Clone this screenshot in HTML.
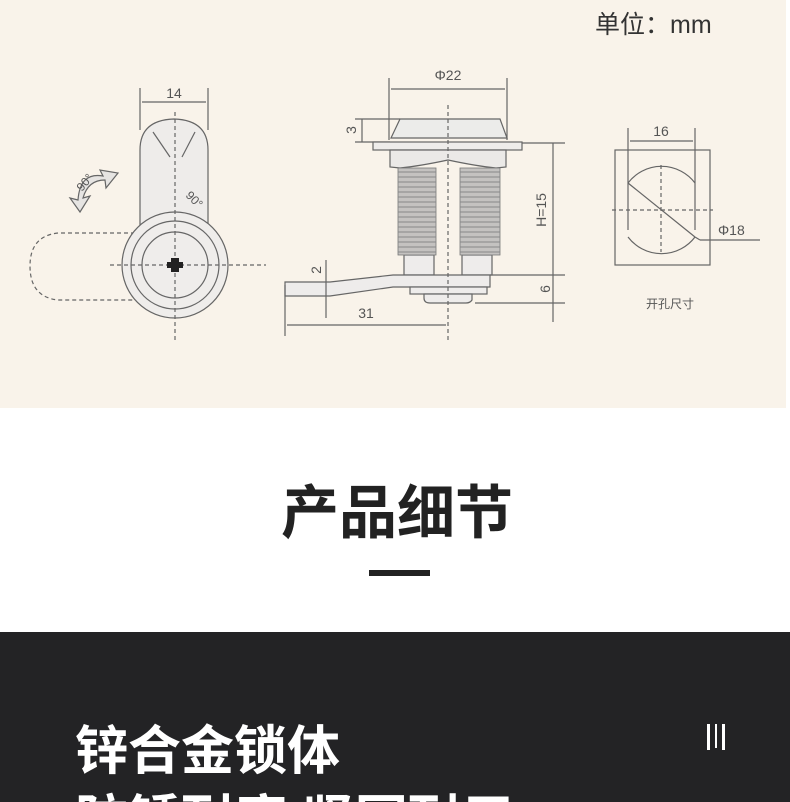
<!DOCTYPE html>
<html><head><meta charset="utf-8"><style>
html,body{margin:0;padding:0;width:790px;height:802px;overflow:hidden;background:#fff;font-family:"Liberation Sans","Noto Sans CJK SC",sans-serif}
.wrap{position:relative;width:790px;height:802px}
</style></head><body><div class="wrap">
<svg width="790" height="802" viewBox="0 0 790 802" xmlns="http://www.w3.org/2000/svg" style="position:absolute;left:0;top:0">
<rect x="0" y="0" width="786" height="408" fill="#f9f3ea"/>
<text x="595" y="33" font-size="25" fill="#333" font-family="Liberation Sans,Noto Sans CJK SC,sans-serif">单位：mm</text>
<g stroke="#666" stroke-width="1.2" fill="none">
<line x1="140" y1="88" x2="140" y2="130"/><line x1="208" y1="88" x2="208" y2="130"/>
<line x1="142" y1="102" x2="206" y2="102"/>
<path d="M140,225 L140,150 Q140,120 174,119 Q208,120 208,150 L208,225" fill="#eeecea"/>
<line x1="153" y1="132" x2="170" y2="157"/><line x1="195" y1="132" x2="182" y2="157"/>
<path d="M135,233 L58,233 Q30,236 30,266 Q30,297 58,300 L135,300" stroke-dasharray="4,3"/>
<circle cx="175" cy="265" r="53" fill="#efedeb"/>
<circle cx="175" cy="265" r="44"/>
<circle cx="175" cy="265" r="33"/>
<line x1="110" y1="265" x2="266" y2="265" stroke-dasharray="4,3"/>
<line x1="175" y1="112" x2="175" y2="340" stroke-dasharray="4,3"/>
<path d="M78,200 L70,198 L80,212 L90,196 L83,198 Q88,180 105,180 L106,188 L118,173 L100,170 L103,176 Q80,172 78,200Z" fill="#e6e4e2"/>
<line x1="389" y1="78" x2="389" y2="140"/><line x1="507" y1="78" x2="507" y2="140"/>
<line x1="391" y1="89" x2="505" y2="89"/>
<path d="M391,138 L400,119 L500,119 L507,138Z" fill="#ececea"/>
<line x1="355" y1="119" x2="400" y2="119"/><line x1="355" y1="142" x2="390" y2="142"/>
<line x1="362" y1="119" x2="362" y2="142"/>
<rect x="373" y="142" width="149" height="8" fill="#eeecea"/>
<path d="M390,150 L390,167 L400,168 Q420,166 448,160 Q476,166 496,168 L506,167 L506,150Z" fill="#ebe9e7"/>
<rect x="404" y="255" width="30" height="20" fill="#eeeceb"/>
<rect x="462" y="255" width="30" height="20" fill="#eeeceb"/>
<path d="M285,282 L330,282 L393,275 L490,275 L490,287 L393,287 L330,296 L285,296Z" fill="#eeeceb"/>
<rect x="410" y="287" width="77" height="7" fill="#eeeceb"/>
<path d="M424,294 L472,294 L472,300 Q470,303 466,303 L430,303 Q424,303 424,298Z" fill="#eeeceb"/>
<line x1="448" y1="105" x2="448" y2="340" stroke-dasharray="4,3"/>
<line x1="522" y1="143" x2="565" y2="143"/><line x1="490" y1="275" x2="565" y2="275"/><line x1="475" y1="303" x2="565" y2="303"/>
<line x1="553" y1="143" x2="553" y2="322"/>
<line x1="326" y1="260" x2="326" y2="318"/>
<line x1="285" y1="285" x2="285" y2="336"/>
<line x1="287" y1="325" x2="446" y2="325"/>
<line x1="628" y1="128" x2="628" y2="230"/><line x1="695" y1="128" x2="695" y2="230"/>
<line x1="630" y1="141" x2="693" y2="141"/>
<rect x="615" y="150" width="95" height="115"/>
<path d="M628,183 A42,42 0 0 1 695,183 M695,237 A42,42 0 0 1 628,237"/>
<line x1="661" y1="165" x2="661" y2="252" stroke-dasharray="4,3"/>
<line x1="612" y1="210" x2="713" y2="210" stroke-dasharray="4,3"/>
<line x1="628" y1="183" x2="695" y2="237"/><line x1="695" y1="237" x2="700" y2="240"/><line x1="700" y1="240" x2="760" y2="240"/>
</g>
<g fill="#c4c2c0" stroke="#777" stroke-width="0.8">
<rect x="398" y="168" width="38" height="87"/>
<rect x="460" y="168" width="40" height="87"/>
</g>
<g stroke="#888" stroke-width="1">
<path d="M398,172 H436 M398,177 H436 M398,182 H436 M398,187 H436 M398,192 H436 M398,197 H436 M398,202 H436 M398,207 H436 M398,212 H436 M398,217 H436 M398,222 H436 M398,227 H436 M398,232 H436 M398,237 H436 M398,242 H436 M398,247 H436 M398,252 H436"/>
<path d="M460,172 H500 M460,177 H500 M460,182 H500 M460,187 H500 M460,192 H500 M460,197 H500 M460,202 H500 M460,207 H500 M460,212 H500 M460,217 H500 M460,222 H500 M460,227 H500 M460,232 H500 M460,237 H500 M460,242 H500 M460,247 H500 M460,252 H500"/>
</g>
<path d="M171,258 h8 v4 h4 v6 h-4 v4 h-8 v-4 h-4 v-6 h4z" fill="#222"/>
<g fill="#555" font-family="Liberation Sans,sans-serif" font-size="14">
<text x="174" y="98" text-anchor="middle">14</text>
<text x="448" y="80" text-anchor="middle">Φ22</text>
<text x="366" y="318" text-anchor="middle">31</text>
<text x="661" y="136" text-anchor="middle">16</text>
<text x="718" y="235">Φ18</text>
<text transform="translate(356,130) rotate(-90)" text-anchor="middle">3</text>
<text transform="translate(546,210) rotate(-90)" text-anchor="middle">H=15</text>
<text transform="translate(550,289) rotate(-90)" text-anchor="middle">6</text>
<text transform="translate(321,270) rotate(-90)" text-anchor="middle">2</text>
<text transform="translate(185,196) rotate(45)" font-size="12">90°</text>
<text transform="translate(82,192) rotate(-50)" font-size="12">90°</text>
<text x="670" y="308" text-anchor="middle" font-size="12" font-family="Liberation Sans,Noto Sans CJK SC,sans-serif">开孔尺寸</text>
</g>
<text x="397" y="533" text-anchor="middle" font-size="58" font-weight="bold" fill="#222" font-family="Liberation Sans,Noto Sans CJK SC,sans-serif">产品细节</text>
<rect x="369" y="570" width="61" height="6" fill="#222"/>
<rect x="0" y="632" width="790" height="170" fill="#232325"/>
<text x="75" y="769" font-size="53" font-weight="bold" fill="#fff" font-family="Liberation Sans,Noto Sans CJK SC,sans-serif">锌合金锁体</text>
<text x="75" y="838" font-size="53" font-weight="bold" fill="#fff" font-family="Liberation Sans,Noto Sans CJK SC,sans-serif">防锈耐磨 坚固耐用</text>
<g fill="#fff"><rect x="707" y="724" width="3" height="26"/><rect x="715" y="724" width="2" height="24"/><rect x="722" y="724" width="3" height="26"/></g>
</svg>
</div></body></html>
